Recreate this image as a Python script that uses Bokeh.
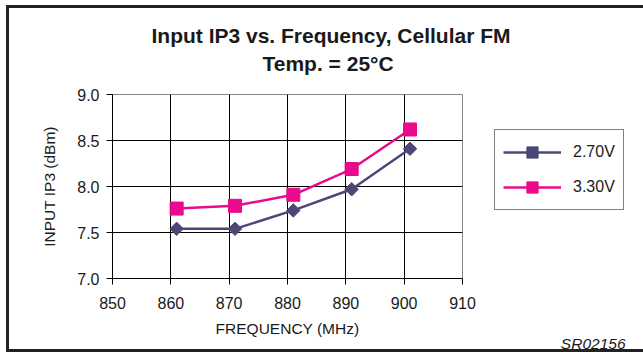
from bokeh.plotting import figure
from bokeh.models import (Range1d, FixedTicker, Legend, LegendItem, Title,
                          NumeralTickFormatter)
from bokeh.embed import file_html
from bokeh.resources import INLINE
import math

# ---- data ----
freq = [861, 871, 881, 891, 901]
ip3_270 = [7.54, 7.54, 7.74, 7.97, 8.41]
ip3_330 = [7.76, 7.79, 7.91, 8.19, 8.62]
series_names = ["2.70V", "3.30V"]
x_ticks = [850, 860, 870, 880, 890, 900, 910]
y_ticks = [7.0, 7.5, 8.0, 8.5, 9.0]

title_1 = "Input IP3 vs. Frequency, Cellular FM"
title_2 = "Temp. = 25°C"
code = "SR02156"

FONT = "Liberation Sans"
BLUE = "#4B4878"
PINK = "#EA0A8C"
INK = "#1a1a1a"

t1 = Title(text=title_1, align="left", offset=39, standoff=-32,
           text_font=FONT, text_font_size="21px", text_font_style="bold",
           text_color=INK)

p = figure(frame_width=350, frame_height=184, output_backend="svg",
           toolbar_location=None, title=t1,
           x_range=Range1d(850, 910), y_range=Range1d(7.0, 9.0),
           min_border_left=112, min_border_right=181,
           min_border_top=94, min_border_bottom=74)
p.background_fill_color = "white"
p.border_fill_alpha = 0
p.outline_line_color = "#888888"
p.outline_line_width = 1
p.styles = {
    "background-color": "white",
    "box-shadow": ("inset 6px 0 0 0 white, inset 0 5px 0 0 white, "
                   "inset 9px 0 0 0 #222222, inset 0 8px 0 0 #222222, "
                   "inset 0 -3px 0 0 #222222"),
}

for ax in (p.xaxis[0], p.yaxis[0]):
    ax.axis_line_color = "black"
    ax.major_tick_line_color = "black"
    ax.major_tick_out = 6
    ax.major_tick_in = 0
    ax.minor_tick_line_color = None
    ax.major_label_text_font = FONT
    ax.major_label_text_font_size = "16px"
    ax.major_label_text_color = INK
    ax.axis_label_text_font = FONT
    ax.axis_label_text_font_size = "15.5px"
    ax.axis_label_text_font_style = "normal"
    ax.axis_label_text_color = INK

p.xaxis.ticker = FixedTicker(ticks=x_ticks)
p.yaxis.ticker = FixedTicker(ticks=y_ticks)
p.yaxis.formatter = NumeralTickFormatter(format="0.0")
p.xaxis.axis_label = "FREQUENCY (MHz)"
p.yaxis.axis_label = "INPUT IP3 (dBm)"
p.xaxis.major_label_standoff = 12
p.xaxis.axis_label_standoff = 8
p.yaxis.major_label_standoff = 7
p.yaxis.axis_label_standoff = 16

p.xgrid.ticker = FixedTicker(ticks=x_ticks)
p.ygrid.ticker = FixedTicker(ticks=y_ticks)
p.xgrid.grid_line_color = "black"
p.ygrid.grid_line_color = "black"
p.xgrid.grid_line_width = 1
p.ygrid.grid_line_width = 1

l1 = p.line(freq, ip3_270, line_color=BLUE, line_width=2.5)
m1 = p.scatter(freq, ip3_270, marker="square", angle=math.pi / 4, size=9.5,
               fill_color=BLUE, line_color=BLUE)
l2 = p.line(freq, ip3_330, line_color=PINK, line_width=2.5)
m2 = p.scatter(freq, ip3_330, marker="square", size=13,
               fill_color=PINK, line_color=PINK)

legend = Legend(items=[LegendItem(label=series_names[0], renderers=[l1, m1]),
                       LegendItem(label=series_names[1], renderers=[l2, m2])],
                location=(32, 68), orientation="vertical")
legend.border_line_color = "black"
legend.border_line_width = 1
legend.background_fill_color = "white"
legend.padding = 8
legend.spacing = 7
legend.margin = 0
legend.glyph_width = 58
legend.glyph_height = 28
legend.label_standoff = 12
legend.label_text_font = FONT
legend.label_text_font_size = "16px"
legend.label_text_color = INK
p.add_layout(legend, "right")

# second title line (added later, so it sits nearer the plot)
p.add_layout(Title(text=title_2, align="left", offset=150, standoff=39,
                   text_font=FONT, text_font_size="21px", text_font_style="bold",
                   text_color=INK), "above")

# figure code at the bottom right
p.add_layout(Title(text=code, align="right", offset=-163, standoff=-24,
                   text_font=FONT, text_font_size="15.5px",
                   text_font_style="italic", text_color=INK), "below")

open("out.html", "w").write(file_html(p, INLINE))
